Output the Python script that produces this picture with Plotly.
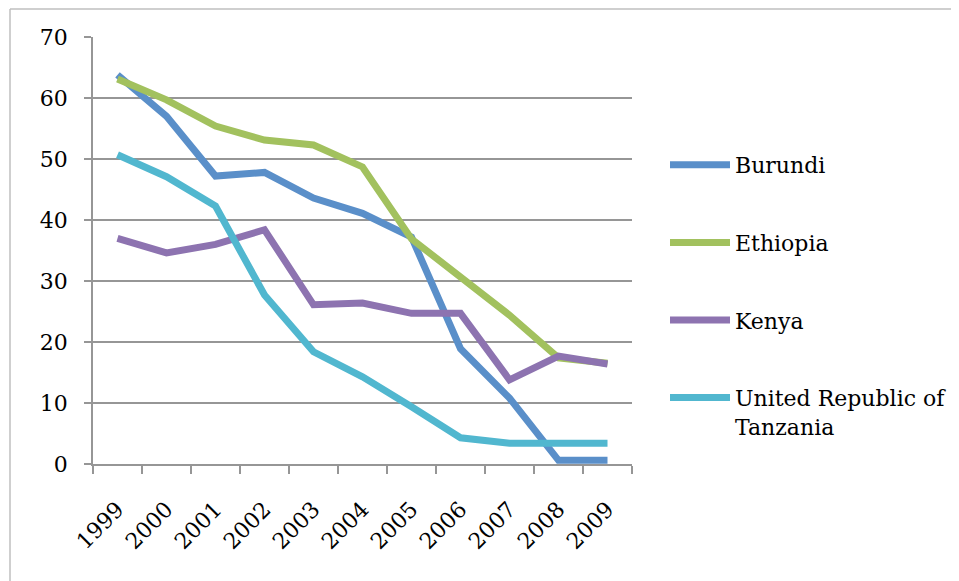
import plotly.graph_objects as go

years = ["1999", "2000", "2001", "2002", "2003", "2004", "2005", "2006", "2007", "2008", "2009"]
burundi = [63.8, 57.0, 47.2, 47.8, 43.6, 41.1, 37.2, 18.9, 10.8, 0.6, 0.6]
ethiopia = [63.1, 59.7, 55.4, 53.1, 52.3, 48.7, 36.9, 30.8, 24.4, 17.4, 16.5]
kenya = [37.0, 34.6, 36.0, 38.4, 26.1, 26.4, 24.7, 24.7, 13.8, 17.7, 16.4]
tanzania = [50.7, 47.1, 42.3, 27.7, 18.4, 14.3, 9.4, 4.3, 3.4, 3.4, 3.4]

series = [
    ("Burundi", burundi, "#5A8FC9"),
    ("Ethiopia", ethiopia, "#A2C15E"),
    ("Kenya", kenya, "#8D73B0"),
    ("United Republic of<br>Tanzania", tanzania, "#51B7CF"),
]

font_family = "DejaVu Serif"

fig = go.Figure()
for i, (name, vals, color) in enumerate(series):
    fig.add_trace(go.Scatter(
        x=years, y=vals, name=name, mode="lines",
        line=dict(color=color, width=7),
        legendgroup=f"g{i}",
    ))

# page body has an 8px margin, so figure coords = screen coords - 8
OFF = 8
W, H = 959 - OFF, 581 - OFF
L, R, T, B = 93 - OFF, 632 - OFF, 37 - OFF, 464 - OFF
pw, ph = R - L, B - T

fig.update_layout(
    width=W, height=H,
    margin=dict(l=L, r=W - R, t=T, b=H - B, pad=0, autoexpand=False),
    paper_bgcolor="white", plot_bgcolor="white",
    font=dict(family=font_family, size=22, color="black"),
    showlegend=True,
    legend=dict(
        x=(657 - L) / pw, xanchor="left",
        y=(B - 136) / ph, yanchor="top",
        font=dict(family=font_family, size=22, color="black"),
        tracegroupgap=46, itemwidth=60, valign="top",
        bgcolor="rgba(0,0,0,0)",
    ),
    xaxis=dict(
        type="category", range=[-0.5, 10.5], automargin=False,
        tickson="boundaries", ticks="outside", ticklen=8, tickwidth=1.5,
        tickcolor="#969696", showline=True, linecolor="#969696", linewidth=1.5,
        showgrid=False, tickangle=-45, ticklabelstandoff=22,
        tickfont=dict(family=font_family, size=22, color="black"),
        fixedrange=True,
    ),
    yaxis=dict(
        range=[0, 70], tickvals=[0, 10, 20, 30, 40, 50, 60, 70], automargin=False,
        ticks="outside", ticklen=7, tickwidth=1.5, tickcolor="#969696",
        showline=True, linecolor="#969696", linewidth=1.5,
        showgrid=True, gridcolor="#969696", gridwidth=1.5,
        zeroline=False, ticklabelstandoff=12,
        tickfont=dict(family=font_family, size=22, color="black"),
        fixedrange=True,
    ),
    shapes=[
        dict(type="line", xref="paper", yref="paper",
             x0=(2 - L) / pw, x1=(W + 5 - L) / pw,
             y0=(B - 1) / ph, y1=(B - 1) / ph,
             line=dict(color="#BFBFBF", width=1.5)),
        dict(type="line", xref="paper", yref="paper",
             x0=(2 - L) / pw, x1=(2 - L) / pw,
             y0=(B - 1) / ph, y1=(B - H - 5) / ph,
             line=dict(color="#BFBFBF", width=1.5)),
    ],
)

fig.write_html("out.html")
